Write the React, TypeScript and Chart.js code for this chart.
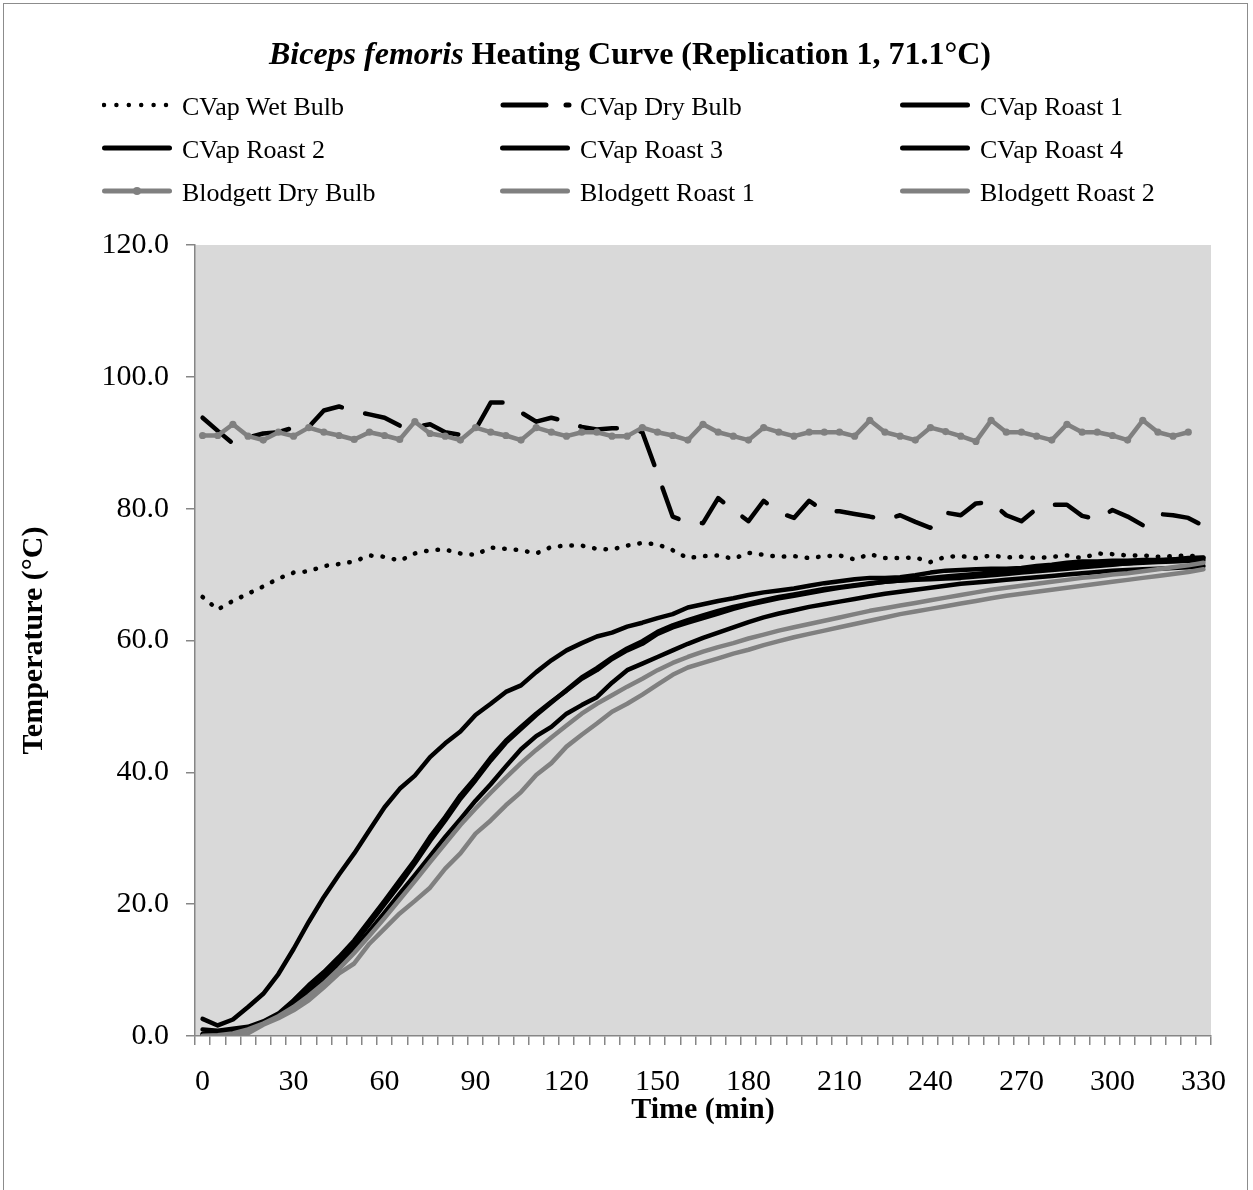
import React, { useEffect, useRef } from 'react';
import { Chart, registerables } from 'chart.js';

Chart.register(...registerables);

const FONT = '"Liberation Serif", "Times New Roman", serif';

const timeLabels = [
  '0', '5', '10', '15', '20', '25', '30', '35', '40', '45', '50', '55', '60', '65', '70', '75', '80', '85', '90', '95',
  '100', '105', '110', '115', '120', '125', '130', '135', '140', '145', '150', '155', '160', '165', '170', '175',
  '180', '185', '190', '195', '200', '205', '210', '215', '220', '225', '230', '235', '240', '245', '250', '255',
  '260', '265', '270', '275', '280', '285', '290', '295', '300', '305', '310', '315', '320', '325', '330',
];

const yTicks = [0, 20, 40, 60, 80, 100, 120];

const cvapWetBulb = [
  66.6, 64.7, 66.0, 67.1, 68.2, 69.4, 70.3, 70.5, 71.3, 71.6, 72.0, 72.9, 72.7, 72.1, 73.2, 73.7, 73.8, 73.2, 73.0, 74.1,
  73.9, 73.7, 73.2, 74.2, 74.4, 74.4, 73.9, 73.8, 74.4, 74.8, 74.6, 73.7, 72.5, 72.8, 72.9, 72.4, 73.3, 73.0, 72.7, 72.8,
  72.5, 72.8, 72.9, 72.3, 73.1, 72.5, 72.5, 72.6, 71.9, 72.7, 72.8, 72.5, 72.9, 72.6, 72.7, 72.5, 72.7, 72.9, 72.5, 73.2,
  73.1, 72.9, 72.9, 72.7, 72.8, 72.9, 72.6,
];

const cvapDryBulb = [
  93.8, 91.8, 89.9, 90.8, 91.4, 91.6, 92.3, 92.4, 94.9, 95.5, 94.8, 94.3, 93.8, 92.6, 92.4, 92.8, 91.6, 91.2, 92.0, 96.1,
  96.1, 94.6, 93.2, 93.8, 93.2, 92.4, 92.0, 92.2, 92.2, 91.6, 85.3, 78.8, 77.9, 77.8, 81.6, 79.8, 78.1, 81.2, 79.4, 78.6,
  81.2, 79.6, 79.6, 79.2, 78.8, 78.3, 79.0, 78.0, 77.1, 79.4, 79.0, 80.8, 81.0, 79.0, 78.1, 80.0, 80.6, 80.6, 78.9, 78.4,
  79.8, 78.8, 77.5, 79.2, 79.0, 78.6, 77.4,
];

const cvapRoast1 = [
  2.6, 1.6, 2.5, 4.4, 6.4, 9.4, 13.2, 17.3, 21.1, 24.5, 27.7, 31.2, 34.7, 37.5, 39.5, 42.3, 44.4, 46.2, 48.7, 50.4,
  52.2, 53.2, 55.2, 57.0, 58.5, 59.6, 60.6, 61.2, 62.1, 62.7, 63.4, 64.0, 65.0, 65.5, 66.0, 66.4, 66.9, 67.3, 67.6, 67.9,
  68.3, 68.7, 69.0, 69.3, 69.5, 69.5, 69.6, 69.9, 70.3, 70.6, 70.7, 70.8, 70.9, 70.9, 71.0, 71.3, 71.5, 71.8, 72.0, 72.0,
  72.1, 72.1, 72.2, 72.2, 72.3, 72.4, 72.5,
];

const cvapRoast2 = [
  1.0, 0.8, 1.1, 1.4, 2.2, 3.4, 5.4, 7.7, 9.7, 12.0, 14.5, 17.5, 20.5, 23.6, 26.7, 30.2, 33.2, 36.5, 39.2, 42.2,
  44.8, 46.9, 48.9, 50.7, 52.4, 54.2, 55.5, 57.2, 58.5, 59.5, 61.0, 62.0, 62.7, 63.4, 64.1, 64.8, 65.4, 65.9, 66.4, 66.8,
  67.2, 67.6, 68.0, 68.3, 68.6, 68.9, 69.1, 69.3, 69.5, 69.7, 69.9, 70.1, 70.3, 70.5, 70.7, 70.9, 71.1, 71.3, 71.4, 71.5,
  71.6, 71.7, 71.8, 71.9, 72.0, 72.1, 72.2,
];

const cvapRoast3 = [
  0.3, 0.5, 0.9, 1.3, 2.0, 3.1, 5.0, 7.2, 9.2, 11.5, 14.0, 17.0, 20.0, 23.0, 26.2, 29.6, 32.7, 36.0, 38.8, 41.8,
  44.5, 46.6, 48.7, 50.6, 52.5, 54.4, 55.8, 57.4, 58.8, 59.9, 61.3, 62.3, 63.1, 63.8, 64.5, 65.1, 65.6, 66.1, 66.6, 67.0,
  67.4, 67.8, 68.1, 68.4, 68.7, 68.9, 69.1, 69.2, 69.3, 69.4, 69.5, 69.7, 69.9, 70.1, 70.3, 70.5, 70.7, 70.9, 71.1, 71.3,
  71.5, 71.7, 71.9, 72.1, 72.3, 72.5, 72.6,
];

const cvapRoast4 = [
  0.2, 0.3, 0.6, 1.1, 2.0, 3.2, 4.7, 6.4, 8.4, 10.7, 13.2, 15.9, 18.7, 21.6, 24.4, 27.3, 30.2, 32.9, 35.7, 38.2,
  40.9, 43.5, 45.5, 46.9, 48.9, 50.2, 51.4, 53.6, 55.5, 56.5, 57.5, 58.5, 59.5, 60.4, 61.2, 62.0, 62.8, 63.5, 64.1, 64.6,
  65.1, 65.5, 65.9, 66.3, 66.7, 67.1, 67.4, 67.7, 68.0, 68.3, 68.6, 68.8, 69.0, 69.2, 69.4, 69.6, 69.8, 70.0, 70.2, 70.4,
  70.6, 70.7, 70.8, 70.9, 71.0, 71.1, 71.3,
];

const blodgettDryBulb = [
  91.1, 91.1, 92.8, 91.0, 90.4, 91.6, 91.0, 92.3, 91.6, 91.1, 90.5, 91.6, 91.1, 90.5, 93.2, 91.4, 91.0, 90.4, 92.3, 91.6,
  91.1, 90.4, 92.3, 91.6, 91.0, 91.6, 91.6, 91.0, 91.0, 92.3, 91.6, 91.1, 90.4, 92.8, 91.6, 91.0, 90.4, 92.3, 91.6, 91.0,
  91.6, 91.6, 91.6, 91.0, 93.4, 91.6, 91.0, 90.4, 92.3, 91.7, 91.0, 90.2, 93.4, 91.6, 91.6, 91.0, 90.4, 92.8, 91.6, 91.6,
  91.1, 90.4, 93.4, 91.6, 91.0, 91.6,
];

const blodgettRoast1 = [
  0.0, 0.1, 0.4, 1.0, 1.9, 3.0, 4.4, 6.1, 8.0, 10.2, 12.6, 15.2, 17.9, 20.7, 23.5, 26.4, 29.2, 32.0, 34.5, 36.9,
  39.2, 41.4, 43.4, 45.3, 47.1, 48.9, 50.4, 51.7, 53.0, 54.2, 55.5, 56.6, 57.5, 58.3, 59.0, 59.6, 60.3, 60.9, 61.5, 62.0,
  62.5, 63.0, 63.5, 64.0, 64.5, 64.9, 65.3, 65.7, 66.1, 66.5, 66.9, 67.3, 67.7, 68.0, 68.3, 68.6, 68.9, 69.2, 69.5, 69.7,
  70.0, 70.2, 70.5, 70.8, 71.1, 71.4, 71.8,
];

const blodgettRoast2 = [
  0.0, 0.0, 0.0, 0.4, 1.7, 2.7, 3.9, 5.4, 7.4, 9.5, 11.0, 14.0, 16.3, 18.6, 20.5, 22.5, 25.4, 27.7, 30.7, 32.7,
  35.0, 37.0, 39.6, 41.4, 43.9, 45.7, 47.4, 49.2, 50.4, 51.8, 53.3, 54.8, 55.9, 56.6, 57.3, 58.0, 58.6, 59.3, 59.9, 60.5,
  61.0, 61.5, 62.0, 62.5, 63.0, 63.5, 64.0, 64.4, 64.8, 65.2, 65.6, 66.0, 66.4, 66.8, 67.1, 67.4, 67.7, 68.0, 68.3, 68.6,
  68.9, 69.2, 69.5, 69.8, 70.1, 70.4, 70.8,
];

const BLACK = '#000000';
const GRAY = '#808080';
const AXIS = '#868686';

const bgPlugin = {
  id: 'plotBg',
  beforeDraw(chart: any) {
    const { ctx, chartArea } = chart;
    ctx.save();
    ctx.fillStyle = '#d9d9d9';
    ctx.fillRect(chartArea.left, chartArea.top, chartArea.right - chartArea.left, chartArea.bottom - chartArea.top);
    ctx.restore();
  },
};

const solid = (label: string, data: number[], color: string) => ({
  label,
  data,
  borderColor: color,
  backgroundColor: color,
  borderWidth: 4.5,
  pointRadius: 0,
  borderCapStyle: 'round',
  borderJoinStyle: 'round',
  fill: false,
});

function Sample({ kind }: { kind: string }) {
  if (kind === 'dot') {
    return (
      <svg width={72} height={14}>
        <line x1={2} y1={7} x2={64} y2={7} stroke={BLACK} strokeWidth={4.5} strokeLinecap="round" strokeDasharray="0 12.4" />
      </svg>
    );
  }
  if (kind === 'dash') {
    return (
      <svg width={72} height={14}>
        <line x1={3} y1={7} x2={69} y2={7} stroke={BLACK} strokeWidth={5} strokeLinecap="round" strokeDasharray="43 20" />
      </svg>
    );
  }
  if (kind === 'marker') {
    return (
      <svg width={72} height={14}>
        <line x1={2.5} y1={7} x2={67.5} y2={7} stroke={GRAY} strokeWidth={5} strokeLinecap="round" />
        <circle cx={35} cy={7} r={4} fill={GRAY} />
      </svg>
    );
  }
  const color = kind === 'gray' ? GRAY : BLACK;
  return (
    <svg width={72} height={14}>
      <line x1={2.5} y1={7} x2={67.5} y2={7} stroke={color} strokeWidth={5} strokeLinecap="round" />
    </svg>
  );
}

const legendItems = [
  { text: 'CVap Wet Bulb', kind: 'dot' },
  { text: 'CVap Dry Bulb', kind: 'dash' },
  { text: 'CVap Roast 1', kind: 'black' },
  { text: 'CVap Roast 2', kind: 'black' },
  { text: 'CVap Roast 3', kind: 'black' },
  { text: 'CVap Roast 4', kind: 'black' },
  { text: 'Blodgett Dry Bulb', kind: 'marker' },
  { text: 'Blodgett Roast 1', kind: 'gray' },
  { text: 'Blodgett Roast 2', kind: 'gray' },
];

const colSample = [102, 500, 900];
const colText = [182, 580, 980];
const rowCenter = [107, 150, 193];

export default function App() {
  const ref = useRef<HTMLCanvasElement>(null);

  useEffect(() => {
    if (!ref.current) return;
    const datasets: any[] = [
      {
        label: 'CVap Wet Bulb',
        data: cvapWetBulb,
        borderColor: BLACK,
        backgroundColor: BLACK,
        borderWidth: 4.5,
        borderDash: [0.5, 11],
        borderCapStyle: 'round',
        pointRadius: 0,
        fill: false,
      },
      {
        label: 'CVap Dry Bulb',
        data: cvapDryBulb,
        borderColor: BLACK,
        backgroundColor: BLACK,
        borderWidth: 4.5,
        borderDash: [37, 24],
        borderCapStyle: 'round',
        borderJoinStyle: 'round',
        pointRadius: 0,
        fill: false,
      },
      solid('CVap Roast 1', cvapRoast1, BLACK),
      solid('CVap Roast 2', cvapRoast2, BLACK),
      solid('CVap Roast 3', cvapRoast3, BLACK),
      solid('CVap Roast 4', cvapRoast4, BLACK),
      {
        label: 'Blodgett Dry Bulb',
        data: blodgettDryBulb,
        borderColor: GRAY,
        backgroundColor: GRAY,
        borderWidth: 4.5,
        borderJoinStyle: 'round',
        pointRadius: 3.6,
        pointBorderWidth: 0,
        pointBackgroundColor: GRAY,
        fill: false,
      },
      solid('Blodgett Roast 1', blodgettRoast1, GRAY),
      solid('Blodgett Roast 2', blodgettRoast2, GRAY),
    ];
    datasets.forEach((d, i) => {
      d.order = -i;
    });

    const chart = new Chart(ref.current, {
      type: 'line',
      data: { labels: timeLabels, datasets },
      options: {
        responsive: false,
        animation: false,
        events: [],
        layout: { padding: { left: 0, top: 245, right: 42, bottom: 0 } },
        plugins: {
          legend: { display: false },
          title: { display: false },
          tooltip: { enabled: false },
        },
        scales: {
          x: {
            type: 'category',
            offset: true,
            grid: {
              display: true,
              drawOnChartArea: false,
              drawTicks: true,
              offset: true,
              tickLength: 9,
              color: AXIS,
              lineWidth: 1.5,
            },
            border: { display: true, color: AXIS, width: 1.5 },
            ticks: {
              autoSkip: false,
              maxRotation: 0,
              minRotation: 0,
              padding: 19,
              color: BLACK,
              font: { family: FONT, size: 30 },
              callback: (_v: any, i: number) => (i % 6 === 0 ? timeLabels[i] : ''),
            },
            title: {
              display: true,
              text: 'Time (min)',
              color: BLACK,
              font: { family: FONT, size: 30, weight: 'bold' },
              padding: { top: 0, bottom: 62 },
            },
            afterFit: (s: any) => {
              s.height = 154;
            },
          },
          y: {
            min: yTicks[0],
            max: yTicks[yTicks.length - 1],
            afterBuildTicks: (s: any) => {
              s.ticks = yTicks.map((v) => ({ value: v }));
            },
            grid: {
              display: true,
              drawOnChartArea: false,
              drawTicks: true,
              tickLength: 9,
              color: AXIS,
              lineWidth: 1.5,
            },
            border: { display: true, color: AXIS, width: 1.5 },
            ticks: {
              padding: 17,
              color: BLACK,
              font: { family: FONT, size: 30 },
              callback: (v: any) => Number(v).toFixed(1),
            },
            title: {
              display: true,
              text: 'Temperature (\u00B0C)',
              color: BLACK,
              font: { family: FONT, size: 30, weight: 'bold' },
              padding: { top: 16, bottom: 0 },
            },
            afterFit: (s: any) => {
              s.width = 195;
            },
          },
        },
      } as any,
      plugins: [bgPlugin],
    });
    return () => chart.destroy();
  }, []);

  return (
    <div
      style={{
        position: 'absolute',
        left: 0,
        top: 0,
        width: 1253,
        height: 1190,
        background: '#ffffff',
        overflow: 'hidden',
        fontFamily: FONT,
      }}
    >
      <div
        style={{
          position: 'absolute',
          left: 3,
          top: 3,
          width: 1245,
          height: 1200,
          border: '1.5px solid #8c8c8c',
          boxSizing: 'border-box',
        }}
      />
      <canvas ref={ref} width={1253} height={1190} style={{ position: 'absolute', left: 0, top: 0, width: 1253, height: 1190 }} />
      <div
        style={{
          position: 'absolute',
          left: 0,
          top: 34,
          width: 1260,
          textAlign: 'center',
          fontSize: 32,
          lineHeight: '38px',
          fontWeight: 'bold',
          color: BLACK,
          whiteSpace: 'nowrap',
        }}
      >
        <i>Biceps femoris</i> Heating Curve (Replication 1, 71.1{'\u00B0'}C)
      </div>
      {legendItems.map((it, idx) => {
        const col = idx % 3;
        const row = Math.floor(idx / 3);
        const cy = rowCenter[row];
        return (
          <React.Fragment key={it.text}>
            <div style={{ position: 'absolute', left: colSample[col], top: cy - 9, width: 72, height: 14 }}>
              <Sample kind={it.kind} />
            </div>
            <div
              style={{
                position: 'absolute',
                left: colText[col],
                top: cy - 16,
                fontSize: 26,
                lineHeight: '31px',
                color: BLACK,
                whiteSpace: 'nowrap',
              }}
            >
              {it.text}
            </div>
          </React.Fragment>
        );
      })}
    </div>
  );
}
